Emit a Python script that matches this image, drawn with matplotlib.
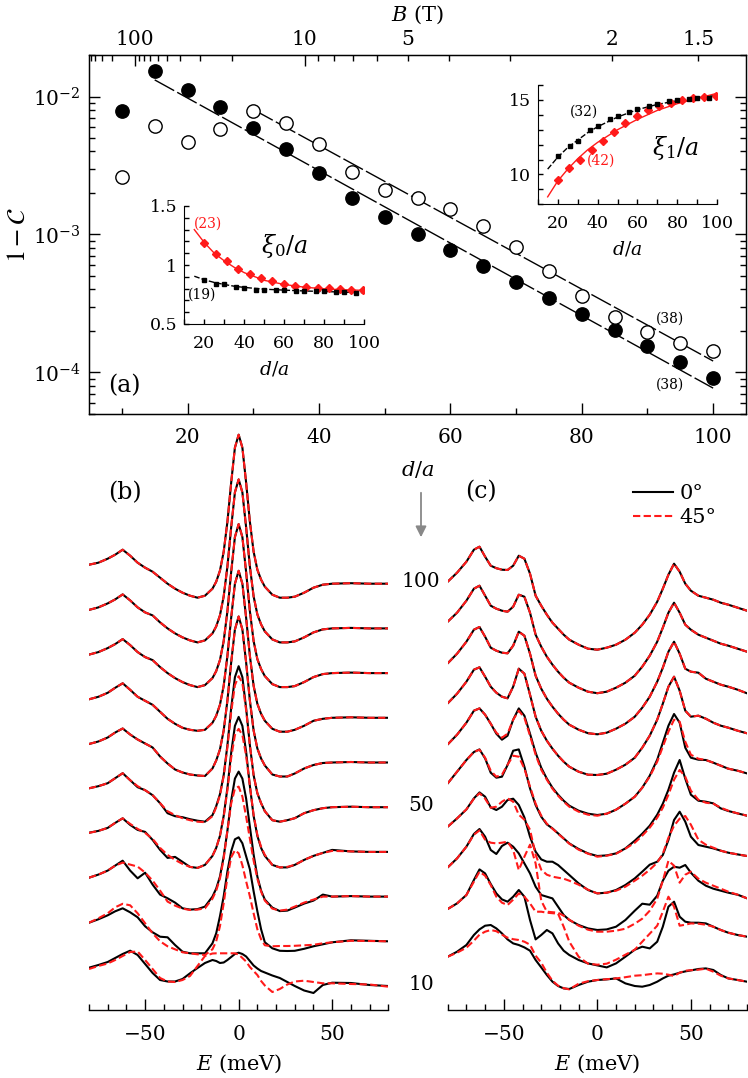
import numpy as np
import matplotlib
matplotlib.use("Agg")
import matplotlib.pyplot as plt
from matplotlib.ticker import FixedLocator, NullFormatter, FuncFormatter, MultipleLocator, LogLocator

plt.rcParams['font.family'] = ['DejaVu Serif']
plt.rcParams['mathtext.fontset'] = 'dejavuserif'

# ---------------- data: panel (a) ----------------
d_main = [10, 15, 20, 25, 30, 35, 40, 45, 50, 55, 60, 65, 70, 75, 80, 85, 90, 95, 100]
one_minus_C_0deg = [7.8e-3, 1.52e-2, 1.12e-2, 8.4e-3, 5.96e-3, 4.16e-3, 2.77e-3, 1.85e-3, 1.34e-3,
                    1.01e-3, 7.74e-4, 5.93e-4, 4.52e-4, 3.44e-4, 2.66e-4, 2.04e-4, 1.55e-4, 1.19e-4, 9.06e-5]
one_minus_C_45deg = [2.59e-3, 6.07e-3, 4.72e-3, 5.86e-3, 7.79e-3, 6.41e-3, 4.54e-3, 2.85e-3, 2.11e-3,
                     1.84e-3, 1.54e-3, 1.16e-3, 8.15e-4, 5.46e-4, 3.6e-4, 2.52e-4, 1.96e-4, 1.64e-4, 1.43e-4]
fit_0deg_d = [15, 100]
fit_0deg_v = [1.32e-2, 7.7e-5]
fit_45deg_d = [30, 100]
fit_45deg_v = [8.05e-3, 1.21e-4]
B_major = [100, 10]
B_minor = [500, 400, 300, 200, 90, 80, 70, 60, 50, 40, 30, 20, 9, 8, 7, 6, 5, 4, 3, 2, 1.5]
B_labeled = [100, 10, 5, 2, 1.5]
d_per_sqrtB = 119.7

# inset xi0
xi_sq_d = [20, 26, 30, 36, 40, 46, 50, 56, 60, 66, 70, 76, 80, 86, 90, 96]
xi_di_d = [20, 25.7, 31.3, 37.0, 42.6, 48.3, 53.9, 59.6, 65.3, 70.9, 76.6, 82.2, 87.9, 93.5, 99.2]
xi0_sq = [0.875, 0.842, 0.835, 0.81, 0.803, 0.792, 0.79, 0.79, 0.786, 0.78, 0.778, 0.776, 0.776, 0.771, 0.767, 0.76]
xi0_di = [1.19, 1.095, 1.037, 0.965, 0.923, 0.893, 0.862, 0.838, 0.822, 0.814, 0.808, 0.802, 0.796, 0.79, 0.784]
fit_d = [15, 20, 25, 30, 35, 40, 50, 60, 70, 80, 90, 100]
xi0_fit_sq = [0.905, 0.875, 0.852, 0.835, 0.82, 0.81, 0.795, 0.787, 0.78, 0.775, 0.77, 0.765]
xi0_fit_di = [1.30, 1.19, 1.10, 1.035, 0.98, 0.935, 0.87, 0.835, 0.812, 0.798, 0.79, 0.785]
# inset xi1
xi1_sq = [11.25, 11.9, 12.25, 12.95, 13.27, 13.75, 13.95, 14.2, 14.38, 14.62, 14.75, 14.9, 15.0, 15.05, 15.1, 15.15]
xi1_di = [9.6, 10.44, 10.96, 11.63, 12.26, 12.83, 13.43, 13.95, 14.35, 14.6, 14.8, 14.98, 15.1, 15.18, 15.25]
xi1_fit_sq = [10.36, 11.15, 11.8, 12.3, 12.8, 13.2, 13.85, 14.35, 14.7, 14.95, 15.15, 15.3]
xi1_fit_di = [8.5, 9.55, 10.35, 11.05, 11.65, 12.15, 13.0, 13.7, 14.3, 14.75, 15.1, 15.45]

# ---------------- data: panel (b) ----------------
d_curves = [100, 90, 80, 70, 60, 50, 40, 30, 20, 10]
E_b = [-80, -75, -70, -66, -62, -58, -54, -50, -46, -42, -38, -34, -30, -26, -22, -18, -14, -12, -10, -8, -6,
       -4, -2, 0, 2, 4, 6, 8, 10, 12, 14, 18, 22, 26, 30, 35, 40, 45, 50, 60, 70, 80]
b0_100 = [19, 21, 25, 29, 34, 28, 21, 16, 12, 6, 0, -5, -9, -12, -14, -12, -5, 2, 13, 32, 62,
          101, 136, 149, 136, 101, 62, 32, 14, 4, -3, -11, -14, -14, -13, -9, -4, -1, 0, 0.5, 0, 0]
b0_90 = [18.5, 21, 25, 29, 34, 28, 21, 16, 13, 6, 0, -5, -9, -12, -14, -12, -5, 2, 13, 32, 62,
         101, 136, 149, 136, 101, 62, 32, 14, 4, -3, -11, -14, -14, -13, -9, -4, -1, 0, 0.5, 0, 0]
b0_80 = [18.5, 21, 25, 29, 34, 28, 21, 16, 13, 6, 0, -5, -9, -12, -14, -12, -5, 2, 13, 32, 62,
         101, 136, 149, 136, 101, 62, 32, 14, 4, -3, -11, -14, -14, -13, -9, -4, -1, 0, 0.5, 0, 0]
b0_70 = [18.5, 21, 25, 30, 34.5, 28, 21, 17, 13, 6, -1, -6, -10, -12, -13, -12, -5, 2, 13, 32, 62,
         100, 134, 147, 134, 100, 62, 32, 14, 4, -3, -11, -13.9, -13.9, -12, -8, -3, -1, 0, 0.5, 0, 0]
b0_60 = [18.5, 21, 25, 30, 34, 28, 23, 19, 15, 6, -1, -7, -10, -12, -13, -13.5, -6, 2, 13, 32, 62,
         100, 133, 146, 133, 100, 62, 32, 14, 4, -3, -12, -14, -14, -11, -6, -2.5, -0.5, 0, 0.5, 0, 0]
b0_50 = [18.9, 21, 24, 29, 34, 27, 20, 17, 12, 4, -6, -9, -10, -12, -13.5, -14.5, -8, 1, 13, 32, 62,
         99, 130, 141, 130, 99, 62, 32, 14, 4, -4, -13, -14.5, -13, -11, -6, -3, -1, 0, 0.5, 0, 0]
b45_50 = [18.9, 21, 24, 29, 34, 27, 21, 17, 12, 4, -4, -8, -11, -13, -14.5, -15, -9, 0, 12, 31, 60,
          95, 122, 131, 124, 97, 62, 32, 14, 4, -4, -13, -14.5, -13, -11, -6, -3, -1, 0, 0.5, 0, 0]
b0_40 = [19.2, 21, 24, 29, 33.6, 27, 22, 20, 12, 2, -6, -5, -10, -15, -16, -13, -4, 4, 16, 36, 64,
         99, 126, 135, 126, 100, 66, 36, 16, 4, -4, -13, -15.5, -15.5, -13, -8, -4, -1, 2, 0.5, 0, 0]
b45_40 = [19, 21, 24, 29, 33.6, 28, 23, 19, 13, 4, -3, -8, -12, -15, -16, -13, -4, 4, 16, 35, 62,
          94, 117, 123, 117, 96, 66, 37, 17, 5, -3, -13, -15.5, -15, -13, -8, -4, -1, 1, 0.5, 0, 0]
b0_30 = [18.9, 22, 26, 31, 35.9, 26, 18.3, 23.9, 12, 2, -1.7, -6, -11.7, -13, -12.5, -10, 0, 8, 20, 40, 66,
         96, 118, 125, 118, 98, 70, 42, 20, 6, -3, -11, -14.5, -14, -11, -7, -4, 2, 0, 0.5, 0, 0]
b45_30 = [18.9, 22, 26, 31, 34, 32, 30, 24, 16, 6, -5, -9, -12, -13.4, -13, -11.7, -2, 6, 18, 38, 66,
          93, 108, 110, 100, 80, 58, 36, 18, 5, -4, -12, -14, -13, -10, -6, -3, 0, 0, 0.5, 0, 0]
b0_20 = [18.6, 22, 26, 30, 33, 29, 24, 15, 9, 4.6, 4, -3.7, -10.4, -12, -12, -12, -2, 8, 25, 45, 70,
         90, 102, 104, 98, 85, 72, 50, 30, 12, -1, -7, -9.5, -9.7, -9.5, -7.5, -5, -3, -1, 1, 0.5, 0]
b45_20 = [18.6, 23, 28, 34, 37.5, 36, 28, 18, 8, 0, -5, -8, -11, -12, -13, -13.7, -8, 0, 15, 38, 64,
          84, 91, 88, 76, 60, 45, 28, 12, 2, -4, -5, -4.7, -4.7, -4.5, -4, -3.5, -2, -1, 0.5, 0.3, 0]
b0_10 = [18.3, 21, 24, 28, 32, 35.3, 31, 22, 13, 6, 4.5, 4.5, 7, 12.7, 18, 23, 26, 25, 23, 23.5, 26,
         29, 32, 33.3, 32, 29.5, 25, 20.5, 17.5, 15, 13.5, 10.5, 8, 4, 0, -4.5, -7, 1, 3.3, 3, 1, 0]
b45_10 = [17, 20, 22.5, 26, 30, 34, 34.5, 26, 17, 8, 4.5, 4, 6, 10, 20, 30, 32.5, 32.7, 32.7, 32.7, 32.7,
          32.7, 32.7, 31.5, 28, 24.5, 19, 15, 11, 5, 0.5, -6, -3, 1.5, 4.5, 5.3, 4, 2.7, 2.7, 2, 1.5, -0.7]
panel_b_0deg = [b0_100, b0_90, b0_80, b0_70, b0_60, b0_50, b0_40, b0_30, b0_20, b0_10]
panel_b_45deg = [b0_100, b0_90, b0_80, b0_70, b0_60, b45_50, b45_40, b45_30, b45_20, b45_10]

# ---------------- data: panel (c) ----------------
E_c = [-80, -75, -70, -66, -63, -60, -57, -54, -51, -48, -45, -42, -39, -36, -33, -30, -27, -24, -21, -18, -15,
       -10, -5, 0, 5, 10, 15, 20, 24, 28, 32, 35, 38, 41, 44, 47, 50, 54, 58, 62, 66, 70, 75, 80]
c0_100 = [2, 11, 22, 34, 37, 27, 18, 15.5, 14, 13.7, 18, 28, 25, 10, -12, -22, -31, -39, -45, -51, -56,
          -61, -65, -66, -64, -61, -56, -49, -41, -31, -18, -5, 9, 20, 12, 0, -7, -12, -14, -16, -19, -21, -24, -27]
c0_90 = [3, 12, 24, 36, 39, 29, 19, 16, 14, 13, 18, 30, 28, 12, -10, -22, -32, -40, -47, -53, -58,
         -63, -67, -68.5, -67, -63, -58, -51, -42, -31, -17, -3, 12, 22, 12, 0, -5, -10, -13, -16, -19, -21, -24, -27]
c0_80 = [2.4, 12, 24, 36, 38.7, 29, 18, 15, 13, 12.4, 20, 34, 30, 12, -10, -23, -33, -41, -48, -54, -59,
         -64, -67.5, -68.6, -67, -63, -58, -51, -42, -31, -16, -2, 14, 24, 12, -3, -6, -7, -13, -16, -19, -21, -24, -27.6]
c0_70 = [3.4, 13, 25, 37, 39.4, 30, 20, 14, 10, 8.4, 20, 38, 33, 12, -10, -24, -34, -42, -49, -55, -60,
         -65, -68, -68.3, -67, -63, -58, -51, -41, -29, -13, 3, 20, 30, 16, -4, -10, -9, -12, -16, -19, -21, -24, -26.6]
c0_60 = [3.3, 13, 25, 37, 39.3, 33, 24, 14, 8, 12, 28, 39.3, 32, 14, -5, -20, -31, -40, -47, -53, -58,
         -63, -66, -67.3, -66, -62, -56, -49, -40, -28, -12, 5, 22, 33.7, 25, 0, -10, -12, -12.3, -15, -18, -21, -23, -25.7]
c45_60 = [3.3, 13, 25, 37, 39.3, 33, 24, 15, 10, 14, 28, 37, 30, 12, -7, -22, -32, -41, -48, -54, -59,
          -64, -67, -68, -66, -62, -56, -49, -40, -29, -14, 1, 16, 28, 26, 6, -7, -11, -12.3, -15, -18, -21, -23, -25.7]
c0_50 = [5.3, 17, 28.7, 36.7, 39.3, 30.3, 16, 11, 12, 23.7, 38, 39.3, 22, 0.3, -16.3, -28, -35.7, -39.7, -44.7, -49.7,
         -54.7, -60.3, -64.7, -67.3, -66.7, -64.7, -59.7, -52, -45, -37, -26, -15, -1, 16, 28.7, 10, -6, -12, -13, -14.7,
         -19.7, -22.3, -24.7, -27]
c45_50 = [5.3, 17, 28.7, 36.7, 39, 31, 18, 12, 14, 24, 33, 32, 20, 2, -15, -27, -35, -40, -45, -50, -55,
          -61, -65, -68, -67, -65, -60, -54, -47, -39, -29, -19, -6, 9, 18.7, 12, -2, -11, -14, -15, -19, -22, -24.7, -27]
c0_40 = [3, 11.3, 20.3, 31.3, 37.3, 33, 22.3, 19.7, 23, 29.7, 31, 24.7, 12.3, -7, -22, -29.7, -32, -32, -35.3, -40.3,
         -45.3, -53.7, -60.3, -63.7, -63, -60.3, -55.3, -48.7, -42, -35, -32, -25.3, -10.3, 9.7, 18, 8, -7, -15.3, -17,
         -18.7, -21, -23, -24.7, -26.3]
c45_40 = [3, 11.3, 20.3, 31, 36.5, 31, 22, 23, 28, 31.3, 28, 15, 10, 0, -25, -40, -45, -47, -48, -49, -51,
          -55, -60, -63.7, -63, -61, -57, -51, -46, -40, -33, -24, -8, 4, 11, 13.7, 5, -10, -15, -18, -21, -23, -24.7, -26.3]
c0_30 = [3.3, 12.3, 24, 36.7, 41.7, 34, 20.7, 16.7, 24.7, 28, 24, 17.3, 7.3, -2.7, -16, -24.3, -26, -27.7, -36, -44.3,
         -49.3, -54.3, -57.7, -59.3, -58.7, -56, -49.3, -40, -33, -34, -25, -10, 0, 4, 3, 5.7, -2, -10, -15, -18, -20,
         -22, -24, -27.6]
c45_30 = [3.3, 12.3, 24, 36, 40.3, 31, 28, 27.3, 28, 29, 20.7, 0.7, 14, 26, 7.3, -30, -41, -41.5, -42, -45, -49,
          -55, -59, -61, -61, -60, -58, -53, -48, -40, -28, -10, 10, 5, -12, -4, -1, -8, -12, -15, -18, -21, -24, -27.6]
c0_20 = [2.7, 8.3, 16.7, 31.7, 42.3, 38.3, 27.7, 18.3, 12.3, 10, 15, 21.7, 15, -8.3, -27.7, -23.3, -18.3, -21.7, -31.7,
         -39, -43.3, -48.3, -51.7, -53.7, -55.7, -51.7, -45, -38, -35, -36.7, -30, -15, 5, 10, -5, -10, -11, -11, -11.7,
         -15, -18.3, -21, -23.3, -25]
c45_20 = [2.7, 8.3, 16.7, 30, 40, 36, 26.7, 15, 9, 6.7, 12, 18.3, 15, 8.3, 0, 0, -1, -1.5, -2, -15, -30,
          -45, -52, -53, -52, -48, -43, -38, -30, -22, -14, 0, 15, 5, -14, -13, -11.7, -12, -13, -15, -18.3, -21, -23.3, -25]
c0_10 = [-4, 1, 7.7, 17.7, 23.3, 27, 27.7, 24.3, 19.3, 13.3, 9.3, 7.7, 5.3, 2, -7.3, -14.7, -22.3, -29, -33.3, -35.7,
         -36.3, -32.3, -29, -27.3, -26.7, -25.7, -30.7, -33.3, -34, -32.3, -29, -25.7, -23, -21.7, -20, -18.7, -17.7,
         -16.3, -15.7, -17.3, -22.3, -25.7, -27.3, -29]
c45_10 = [-4, 0, 5, 12, 18, 21, 22.7, 21.5, 18, 15, 13.5, 12.7, 11, 8, -3, -10, -20, -28, -33, -35.5, -36.7,
          -31, -28.5, -27.3, -26.5, -25.7, -24.5, -23, -22.5, -21.5, -20.7, -21, -22, -23.3, -20, -18, -17.5, -17, -16,
          -19, -23, -25.7, -27.3, -29]
panel_c_0deg = [c0_100, c0_90, c0_80, c0_70, c0_60, c0_50, c0_40, c0_30, c0_20, c0_10]
panel_c_45deg = [c0_100, c0_90, c0_80, c0_70, c45_60, c45_50, c45_40, c45_30, c45_20, c45_10]
label_rows = {100: 0, 50: 5, 10: 9}

# ---------------- figure ----------------
W, H = 748, 1078
fig = plt.figure(figsize=(W / 100, H / 100), dpi=100)


def ax_px(l, t, r, b):
    return fig.add_axes([l / W, 1 - b / H, (r - l) / W, (b - t) / H])


def ftext(x, y, s, **kw):
    fig.text(x / W, 1 - y / H, s, **kw)


RED = '#ff1a1a'

# ---- panel (a)
ax = ax_px(89, 55, 746, 414)
ax.set_yscale('log')
ax.set_xlim(5, 105)
ax.set_ylim(5e-5, 2e-2)
ax.plot(fit_0deg_d, fit_0deg_v, color='k', lw=1.0, dashes=(16, 2.5))
ax.plot(fit_45deg_d, fit_45deg_v, color='k', lw=1.0, dashes=(16, 2.5))
ax.plot(d_main, one_minus_C_0deg, 'o', ms=9.6, mfc='k', mec='k', mew=1)
ax.plot(d_main, one_minus_C_45deg, 'o', ms=9.6, mfc='white', mec='k', mew=1)
ax.xaxis.set_major_locator(MultipleLocator(20))
ax.xaxis.set_minor_locator(MultipleLocator(10))
ax.yaxis.set_major_locator(LogLocator(base=10, numticks=10))
ax.yaxis.set_minor_locator(LogLocator(base=10, subs=np.arange(2, 10), numticks=10))
ax.yaxis.set_minor_formatter(NullFormatter())
ax.tick_params(axis='both', which='major', direction='in', length=8, width=1, labelsize=14.5)
ax.tick_params(axis='both', which='minor', direction='in', length=4.5, width=1)
ax.tick_params(axis='x', which='both', top=False, bottom=True, pad=10)
ax.tick_params(axis='y', which='both', left=True, right=True, pad=6)
ax.set_ylabel(r'$1-\mathcal{C}$', fontsize=19, math_fontfamily='stix', labelpad=2)
for s in ax.spines.values():
    s.set_linewidth(1.0)

axt = ax.twiny()
axt.set_xlim(ax.get_xlim())
axt.xaxis.set_major_locator(FixedLocator([d_per_sqrtB / np.sqrt(b) for b in B_major]))
axt.xaxis.set_minor_locator(FixedLocator([d_per_sqrtB / np.sqrt(b) for b in B_minor]))
lab_pos = {round(d_per_sqrtB / np.sqrt(b), 6): b for b in B_labeled}


def btxt(x, pos):
    for k, b in lab_pos.items():
        if abs(k - x) < 1e-3:
            return ('%g' % b)
    return ''


axt.xaxis.set_major_formatter(FuncFormatter(btxt))
axt.xaxis.set_minor_formatter(FuncFormatter(btxt))
axt.tick_params(axis='x', which='major', direction='in', length=8, width=1, labelsize=14.5, pad=4)
axt.tick_params(axis='x', which='minor', direction='in', length=4.5, width=1, labelsize=14.5, pad=4)
axt.set_xlabel(r'$B$ (T)', fontsize=15, labelpad=7)

ax.text(7.9, 7.2e-5, '(a)', fontsize=17)
ax.text(93.5, 2.45e-4, '(38)', fontsize=10, ha='center', va='center')
ax.text(93.5, 8.2e-5, '(38)', fontsize=10, ha='center', va='center')

# ---- inset xi0
ai = ax_px(184.3, 206, 364.3, 324)
ai.plot(fit_d, xi0_fit_di, color=RED, lw=1.0)
ai.plot(fit_d, xi0_fit_sq, color='k', lw=1.0, dashes=(4, 1.5))
ai.plot(xi_di_d, xi0_di, 'D', color=RED, ms=4)
ai.plot(xi_sq_d, xi0_sq, 's', color='k', ms=3.5)
ai.set_xlim(10, 100)
ai.set_ylim(0.5, 1.5)
ai.xaxis.set_major_locator(MultipleLocator(20))
ai.xaxis.set_minor_locator(MultipleLocator(10))
ai.yaxis.set_major_locator(FixedLocator([0.5, 1.0, 1.5]))
ai.yaxis.set_minor_locator(MultipleLocator(0.1))
ai.yaxis.set_major_formatter(FuncFormatter(lambda v, p: '%g' % v))
ai.tick_params(which='both', direction='in', length=3.5, width=1, labelsize=12.5)
ai.tick_params(axis='x', pad=8)
ai.tick_params(axis='y', pad=5)
ai.spines['top'].set_visible(False)
ai.spines['right'].set_visible(False)
ai.patch.set_alpha(0)
ai.set_xlabel(r'$d/a$', fontsize=13.5, labelpad=5)
ai.text(22, 1.32, '(23)', color=RED, fontsize=10, ha='center')
ai.text(19, 0.745, '(19)', color='k', fontsize=10, ha='center', va='center')
ai.text(60, 1.16, r'$\xi_0/a$', fontsize=17, ha='center', va='center')

# ---- inset xi1
aj = ax_px(537.7, 85, 717.3, 204.3)
aj.plot(fit_d, xi1_fit_di, color=RED, lw=1.0)
aj.plot(fit_d, xi1_fit_sq, color='k', lw=1.0, dashes=(4, 1.5))
aj.plot(xi_di_d, xi1_di, 'D', color=RED, ms=4)
aj.plot(xi_sq_d, xi1_sq, 's', color='k', ms=3.5)
aj.set_xlim(10, 100)
aj.set_ylim(8, 16)
aj.xaxis.set_major_locator(MultipleLocator(20))
aj.xaxis.set_minor_locator(MultipleLocator(10))
aj.yaxis.set_major_locator(FixedLocator([10, 15]))
aj.yaxis.set_minor_locator(MultipleLocator(1))
aj.tick_params(which='both', direction='in', length=3.5, width=1, labelsize=12.5)
aj.tick_params(axis='x', pad=8)
aj.tick_params(axis='y', pad=5)
aj.spines['top'].set_visible(False)
aj.spines['right'].set_visible(False)
aj.patch.set_alpha(0)
aj.set_xlabel(r'$d/a$', fontsize=13.5, labelpad=5)
aj.text(33, 14.2, '(32)', color='k', fontsize=10, ha='center', va='center')
aj.text(42, 10.9, '(42)', color=RED, fontsize=10, ha='center', va='center')
aj.text(79, 11.8, r'$\xi_1/a$', fontsize=17, ha='center', va='center')

# ---- panels (b) and (c)
YB = (583.7 - 1010, 583.7 - 420)


def stack(axp, E, black, red, step):
    hb = hr = None
    for i, (yb, yr) in enumerate(zip(black, red)):
        off = -step * i
        hb, = axp.plot(E, np.asarray(yb) + off, color='k', lw=1.5, solid_joinstyle='round')
        hr, = axp.plot(E, np.asarray(yr) + off, color=RED, lw=1.5, dashes=(3.5, 1.6))
    axp.set_xlim(-80, 80)
    axp.set_ylim(*YB)
    for s in ('left', 'right', 'top'):
        axp.spines[s].set_visible(False)
    axp.spines['bottom'].set_linewidth(1.0)
    axp.set_yticks([])
    axp.xaxis.set_major_locator(FixedLocator([-50, 0, 50]))
    axp.xaxis.set_minor_locator(MultipleLocator(10))
    axp.tick_params(axis='x', which='major', direction='in', length=8, width=1, labelsize=14.5, pad=11)
    axp.tick_params(axis='x', which='minor', direction='in', length=4, width=1)
    axp.set_xlabel(r'$E$ (meV)', fontsize=15, labelpad=6)
    axp.patch.set_alpha(0)
    return hb, hr


axb = ax_px(89, 420, 388.3, 1010)
stack(axb, E_b, panel_b_0deg, panel_b_45deg, 44.7)
axc = ax_px(447.7, 420, 747, 1010)
hb, hr = stack(axc, E_c, panel_c_0deg, panel_c_45deg, 41.0)

axb.text(-61, 583.7 - 493, '(b)', fontsize=17, ha='center', va='center')
axc.text(-62, 583.7 - 492, '(c)', fontsize=17, ha='center', va='center')
for dval, row in label_rows.items():
    axb.text(97.5, -44.7 * row + 2, str(dval), fontsize=14.5, ha='center', va='center', clip_on=False)

axc.legend([hb, hr], ['0°', '45°'], loc='upper left', bbox_to_anchor=(633 / W, 1 - 484 / H),
           bbox_transform=fig.transFigure, frameon=False, fontsize=15, handlelength=1.9,
           handletextpad=0.35, labelspacing=0.25, borderaxespad=0, borderpad=0)

ftext(418, 470, r'$d/a$', fontsize=15, ha='center', va='center')
ax.annotate('', xy=(421 / W, 1 - 540 / H), xytext=(421 / W, 1 - 490 / H), xycoords='figure fraction',
            textcoords='figure fraction',
            arrowprops=dict(arrowstyle='-|>', color='#888888', lw=1.3, mutation_scale=16))

fig.savefig('out.png', dpi=100)
